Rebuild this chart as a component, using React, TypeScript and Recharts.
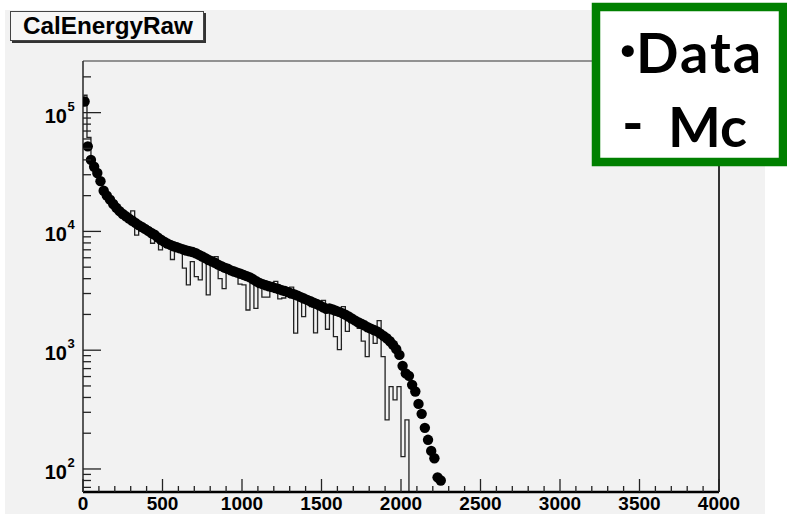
import { ComposedChart, Line, Scatter, XAxis, YAxis, ReferenceLine } from "recharts";

const W = 787;
const H = 514;
// plot frame in page pixels
const PLOT = { left: 83, top: 61, right: 719, bottom: 492 };

const X_DOMAIN = [0, 4000];
const Y_DOMAIN = [64, 272000];

const X_MAJOR = [0, 500, 1000, 1500, 2000, 2500, 3000, 3500, 4000];
const Y_MAJOR = [100, 1000, 10000, 100000];

// Data histogram: 20-unit bins starting at 0
const DATA_BIN = 20;
const dataCounts = [
  124000, 52000, 40000, 35000, 31000, 26500, 22000, 20000, 18500, 17000,
  15800, 14800, 14000, 13400, 12800, 12300, 11800, 11300, 10900, 10500,
  10100, 9700, 9400, 8900, 8500, 8200, 7900, 7700, 7500, 7350,
  7200, 7050, 6900, 6800, 6700, 6550, 6350, 6150, 5950, 5750,
  5600, 5450, 5250, 5100, 4950, 4850, 4700, 4600, 4500, 4400,
  4300, 4200, 4100, 3950, 3800, 3680, 3600, 3520, 3450, 3400,
  3330, 3270, 3200, 3150, 3080, 3000, 2950, 2880, 2800, 2720,
  2650, 2580, 2510, 2450, 2380, 2300, 2230, 2250, 2200, 2150,
  2100, 2050, 1990, 1920, 1850, 1780, 1720, 1670, 1620, 1560,
  1520, 1480, 1440, 1380, 1320, 1260, 1190, 1110, 1020, 913,
  738, 638, 608, 511, 449, 353, 291, 222, 176, 142,
  123, 85, 80,
];

// MC histogram: 25-unit bins starting at 0 (0 = empty bin)
const MC_BIN = 25;
const mcCounts = [
  140000, 62000, 37000, 31000, 26000, 21500, 19000, 17200, 15700, 14500,
  13600, 12900, 14900, 9300, 11100, 10600, 10100, 7950, 9200, 6980,
  8300, 7900, 5800, 7400, 7200, 4900, 3550, 5570, 4170, 3910,
  6050, 2920, 5600, 6140, 4000, 3300, 4850, 4650, 4550, 3600,
  3550, 2180, 4000, 2250, 3680, 2800, 2800, 3400, 3790, 2700,
  2750, 3080, 3400, 1390, 2830, 1920, 2650, 2330, 1400, 2380,
  2630, 1500, 2230, 1300, 1010, 2330, 1440, 1860, 1780, 1530,
  1190, 883, 1520, 1140, 1775, 883, 259, 493, 382, 493,
  127, 259, 0,
];

const dataPoints = dataCounts.map((v, i) => ({ x: (i + 0.5) * DATA_BIN, y: v }));
// empty bins drawn below the axis so the step drops to the floor
const mcPoints = mcCounts.map((v, i) => ({ x: i * MC_BIN, y: v > 0 ? v : 1 }));

const xTicks: number[] = [];
X_MAJOR.forEach((m, i) => {
  xTicks.push(m);
  if (i < X_MAJOR.length - 1) for (let k = 1; k < 5; k++) xTicks.push(m + k * 100);
});

const yTicks: number[] = [];
[10, 100, 1000, 10000, 100000].forEach((d) => {
  for (let k = 1; k < 10; k++) {
    const v = d * k;
    if (v >= Y_DOMAIN[0] && v <= Y_DOMAIN[1]) yTicks.push(v);
  }
});

const FONT = "'Liberation Sans', Arial, Helvetica, sans-serif";
const LEGEND_FONT = "'Comic Sans MS', Lato, 'Open Sans', sans-serif";

function XTick(props: any) {
  const { x, payload } = props;
  const major = payload.value % 500 === 0;
  return (
    <g>
      <line x1={x} x2={x} y1={PLOT.bottom} y2={PLOT.bottom - (major ? 13 : 6)} stroke="#222" strokeWidth={1.3} />
      {major && (
        <text x={x} y={510} textAnchor="middle" fontFamily={FONT} fontWeight="bold" fontSize={19} fill="#000">
          {payload.value}
        </text>
      )}
    </g>
  );
}

function YTick(props: any) {
  const { y, payload } = props;
  const v = payload.value;
  const exp = Math.round(Math.log10(v));
  const major = Y_MAJOR.includes(v);
  return (
    <g>
      <line x1={PLOT.left} x2={PLOT.left + (major ? 18 : 8)} y1={y} y2={y} stroke="#222" strokeWidth={1.3} />
      {major && (
        <g fontFamily={FONT} fontWeight="bold" fill="#000">
          <text x={67} y={y + 10} textAnchor="end" fontSize={20}>10</text>
          <text x={67.5} y={y - 2} fontSize={13}>{exp}</text>
        </g>
      )}
    </g>
  );
}

function Marker(props: any) {
  const { cx, cy } = props;
  if (cx == null || cy == null) return <g />;
  return <circle cx={cx} cy={cy} r={5.2} fill="#000" />;
}

export default function App() {
  return (
    <div style={{ position: "absolute", left: 0, top: 0, width: W, height: H, background: "#fff", overflow: "hidden" }}>
      <div style={{ position: "absolute", left: 5, top: 10, width: 760, height: H - 10, background: "#f2f2f2" }} />
      <div style={{ position: "absolute", left: 0, top: 0 }}>
        <ComposedChart
          width={W}
          height={H}
          margin={{ top: PLOT.top, right: W - PLOT.right, bottom: 0, left: 0 }}
        >
          <XAxis
            type="number"
            dataKey="x"
            domain={X_DOMAIN}
            ticks={xTicks}
            interval={0}
            height={H - PLOT.bottom}
            tick={(p: any) => <XTick {...p} />}
            tickLine={false}
            axisLine={{ stroke: "#000", strokeWidth: 2.5 }}
            allowDataOverflow
          />
          <YAxis
            type="number"
            scale="log"
            domain={Y_DOMAIN}
            ticks={yTicks}
            interval={0}
            width={PLOT.left}
            tick={(p: any) => <YTick {...p} />}
            tickLine={false}
            axisLine={{ stroke: "#333", strokeWidth: 1.6 }}
            allowDataOverflow
          />
          <ReferenceLine y={Y_DOMAIN[1]} stroke="#333" strokeWidth={1.2} />
          <ReferenceLine x={X_DOMAIN[1]} stroke="#333" strokeWidth={2} />
          <Line
            data={mcPoints}
            dataKey="y"
            type="stepAfter"
            stroke="#222"
            strokeWidth={1.3}
            dot={false}
            isAnimationActive={false}
          />
          <Scatter data={dataPoints} dataKey="y" shape={Marker} isAnimationActive={false} />
        </ComposedChart>
      </div>
      <svg width={W} height={H} style={{ position: "absolute", left: 0, top: 0, pointerEvents: "none" }}>
        {/* title box */}
        <rect x={10.5} y={11.5} width={193} height={29} fill="#f6f6f6" stroke="#444" strokeWidth={1} />
        <line x1={205} y1={13} x2={205} y2={42.5} stroke="#333" strokeWidth={2} />
        <line x1={12} y1={42} x2={206} y2={42} stroke="#333" strokeWidth={2} />
        <text x={23} y={34} fontFamily={FONT} fontWeight="bold" fontSize={23} textLength={170} lengthAdjust="spacingAndGlyphs" fill="#000">
          CalEnergyRaw
        </text>
        {/* legend */}
        <rect x={596} y={7} width={187} height={155} fill="#fff" stroke="#008000" strokeWidth={8.5} />
        <g fontFamily={LEGEND_FONT} fontWeight="bold" fill="#000">
          <text x={619} y={73} fontSize={56}>
            <tspan fontSize={64} dy={-3}>·</tspan>
            <tspan x={636} dy={3} letterSpacing={2}>Data</tspan>
          </text>
          <text x={622} y={147} fontSize={56}>
            <tspan fontSize={58} dy={-4}>-</tspan>
            <tspan x={668} dy={4}>Mc</tspan>
          </text>
        </g>
      </svg>
    </div>
  );
}
